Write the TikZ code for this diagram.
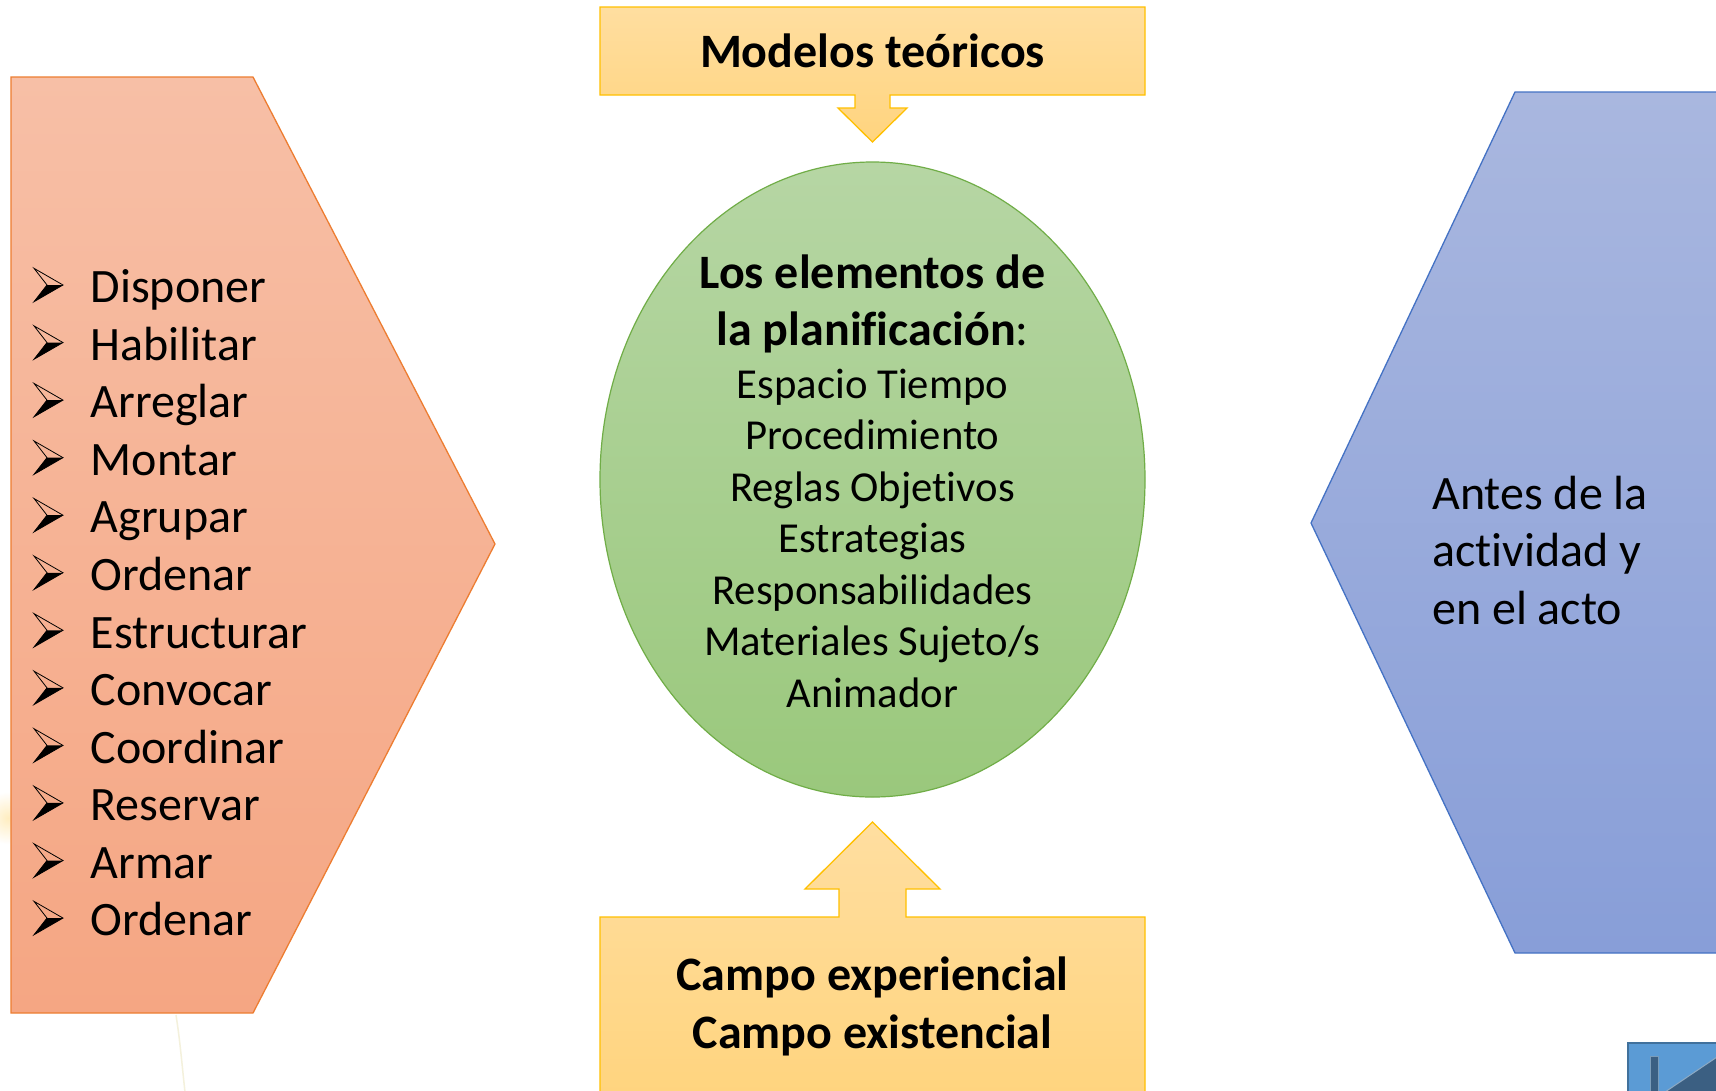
\documentclass[tikz,border=0pt]{standalone}
\usepackage{fontspec}
\setmainfont{Carlito}[Ligatures={NoCommon}]
\definecolor{orTop}{HTML}{F7BFA6}
\definecolor{orBot}{HTML}{F5A683}
\definecolor{orLine}{HTML}{ED7D31}
\definecolor{grTop}{HTML}{B6D6A4}
\definecolor{grBot}{HTML}{9AC87C}
\definecolor{grLine}{HTML}{70AD47}
\definecolor{yeTop}{HTML}{FFDEA0}
\definecolor{yeBot}{HTML}{FFD47E}
\definecolor{yeLine}{HTML}{FFC000}
\definecolor{blTop}{HTML}{A9B7DF}
\definecolor{blBot}{HTML}{889ED8}
\definecolor{blLine}{HTML}{4472C4}
\definecolor{navFill}{HTML}{5B9BD5}
\definecolor{navLine}{HTML}{41719C}
\definecolor{navDark}{HTML}{3B5F82}
\definecolor{wmLine}{HTML}{F4F1DC}
\tikzset{
  shapeline/.style={line width=1.3pt, line join=miter},
  listtxt/.style={anchor=base west, inner sep=0pt, font=\fontsize{48}{57}\selectfont},
  midtxt/.style={anchor=base, inner sep=0pt, font=\fontsize{42.7}{51}\selectfont},
  boldtxt/.style={anchor=base, inner sep=0pt, font=\fontsize{48}{57}\selectfont\bfseries},
  righttxt/.style={anchor=base west, inner sep=0pt, font=\fontsize{48}{57}\selectfont},
  arrbul/.pic={
    \fill[black] (13,-17.7) -- (29,-17.7) -- (0,-1) -- cycle;
    \draw[black, line width=0.8pt, line join=miter] (0,-34.4) -- (29,-17.7) -- (0,-1) -- (13,-17.7) -- cycle;
  }
}
\begin{document}
\begin{tikzpicture}[x=1pt,y=-1pt]
\useasboundingbox (0,0) rectangle (1716,1090);
\clip (0,0) rectangle (1716,1090);
\fill[white] (0,0) rectangle (1716,1090);

% faint watermark traces
\shade[inner color=yellow!45!orange!35, outer color=white, opacity=0.7] (8,818) circle (26);
\draw[wmLine, line width=1.5pt] (176,1015) .. controls (180,1040) and (182,1065) .. (185,1092);

% left chevron
\shade[top color=orTop, bottom color=orBot] (11,77) -- (253,77) -- (495,544) -- (253,1013) -- (11,1013) -- cycle;
\draw[orLine, shapeline] (11,77) -- (253,77) -- (495,544) -- (253,1013) -- (11,1013) -- cycle;

% right pentagon
\shade[top color=blTop, bottom color=blBot] (1725,92) -- (1515,92) -- (1311,523) -- (1515,953) -- (1725,953) -- cycle;
\draw[blLine, shapeline] (1725,92) -- (1515,92) -- (1311,523) -- (1515,953) -- (1725,953);

% top callout
\shade[top color=yeTop, bottom color=yeBot] (600,7) -- (1145,7) -- (1145,95) -- (890,95) -- (890,108) -- (907,108) -- (872.5,142) -- (838,108) -- (855,108) -- (855,95) -- (600,95) -- cycle;
\draw[yeLine, shapeline] (600,7) -- (1145,7) -- (1145,95) -- (890,95) -- (890,108) -- (907,108) -- (872.5,142) -- (838,108) -- (855,108) -- (855,95) -- (600,95) -- cycle;

% bottom callout
\shade[top color=yeTop, bottom color=yeBot] (600,917) -- (839,917) -- (839,889) -- (805,889) -- (872.5,822) -- (940,889) -- (906,889) -- (906,917) -- (1145,917) -- (1145,1100) -- (600,1100) -- cycle;
\draw[yeLine, shapeline] (600,1100) -- (600,917) -- (839,917) -- (839,889) -- (805,889) -- (872.5,822) -- (940,889) -- (906,889) -- (906,917) -- (1145,917) -- (1145,1100);

% ellipse
\shade[top color=grTop, bottom color=grBot] (872.5,479.5) ellipse [x radius=272.5, y radius=317.5];
\draw[grLine, line width=1.2pt] (872.5,479.5) ellipse [x radius=272.5, y radius=317.5];

% texts
\node[boldtxt] (modelos) at (872.5,67) {Modelos teóricos};
\node[boldtxt] (campo1) at (872.5,990) {Campo experiencial};
\node[boldtxt] (campo2) at (872.5,1048) {Campo existencial};

\node[boldtxt] (e1) at (872.5,288) {Los elementos de};
\node[boldtxt] (e2) at (872.5,345) {la planificación\mdseries:};
\node[midtxt] (e3) at (872.5,398) {Espacio Tiempo};
\node[midtxt] (e4) at (872.5,449.5) {Procedimiento};
\node[midtxt] (e5) at (872.5,501) {Reglas Objetivos};
\node[midtxt] (e6) at (872.5,552.5) {Estrategias};
\node[midtxt] (e7) at (872.5,604) {Responsabilidades};
\node[midtxt] (e8) at (872.5,655.5) {Materiales Sujeto/s};
\node[midtxt] (e9) at (872.5,707) {Animador};

\node[righttxt] (r1) at (1432,509) {Antes de la};
\node[righttxt] (r2) at (1432,566.5) {actividad y};
\node[righttxt] (r3) at (1432,624) {en el acto};

\foreach \w [count=\i from 0] in {Disponer,Habilitar,Arreglar,Montar,Agrupar,Ordenar,Estructurar,Convocar,Coordinar,Reservar,Armar,Ordenar}{
  \pgfmathsetmacro{\yy}{302.7+57.55*\i}
  \node[listtxt] (item\i) at (90.5,\yy) {\w};
  \pic at (34,\yy) {arrbul};
}

% navigation button fragment
\fill[navFill] (1628,1043) rectangle (1725,1100);
\draw[navLine, line width=2pt] (1628,1100) -- (1628,1043) -- (1725,1043);
\fill[navDark] (1650,1056) rectangle (1658,1100);
\draw[navLine!70!white, line width=1pt] (1650,1100) -- (1650,1056) -- (1658,1056) -- (1658,1100);
\fill[navDark] (1665,1092) -- (1720,1055) -- (1720,1092) -- cycle;
\draw[navLine!60!white, line width=1pt] (1665,1092) -- (1720,1055);
\end{tikzpicture}
\end{document}
